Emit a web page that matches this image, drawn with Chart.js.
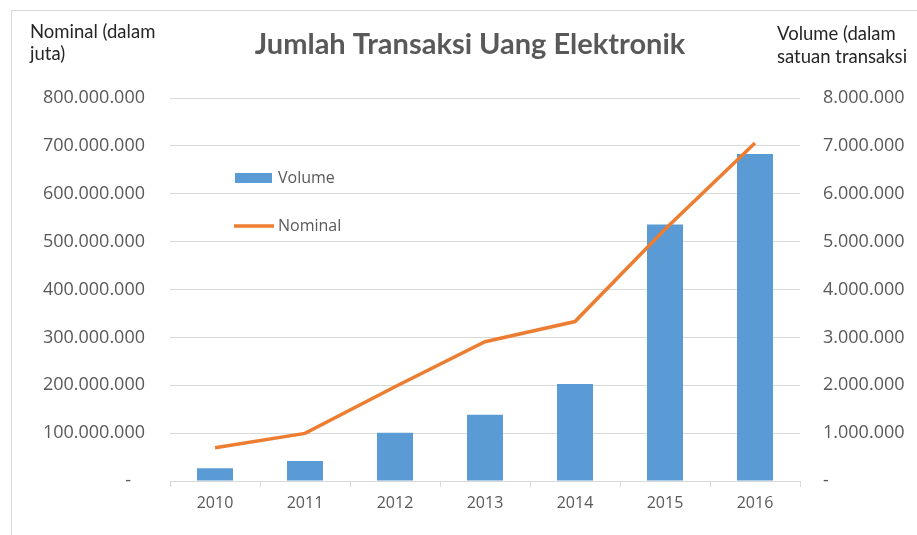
<!DOCTYPE html>
<html>
<head>
<meta charset="utf-8">
<script src="https://cdn.jsdelivr.net/npm/chart.js@4/dist/chart.umd.min.js"></script>
<style>
  html, body { margin: 0; padding: 0; background: #fff; }
  #wrap { width: 917px; height: 535px; position: relative; }
</style>
</head>
<body>
<div id="wrap"><canvas id="chart"></canvas></div>
<script>
// data
const tahun = ['2010', '2011', '2012', '2013', '2014', '2015', '2016'];
const volume = [265000, 420000, 1010000, 1385000, 2025000, 5360000, 6830000];
const nominal = [69500000, 99500000, 197000000, 291000000, 333000000, 526000000, 706000000];

const judul = 'Jumlah Transaksi Uang Elektronik';
const judulKiri = ['Nominal (dalam', 'juta)'];
const judulKanan = ['Volume (dalam', 'satuan transaksi'];

const textColor = '#595959';
const gridColor = '#d9d9d9';

// 800000000 -> "800.000.000", 0 -> "-"
function fmt(v, trail) {
    if (v === 0) return '-' + (trail || '');
    return String(Math.round(v)).replace(/\B(?=(\d{3})+(?!\d))/g, '.');
}

// frame, titles and the in-plot legend
const extras = {
    id: 'extras',
    beforeDraw(chart) {
        const c = chart.ctx;
        c.save();
        c.strokeStyle = gridColor;
        c.lineWidth = 1;
        c.strokeRect(11.5, 10.5, 1000, 1000);
        c.restore();
    },
    afterDraw(chart) {
        const c = chart.ctx;
        c.save();
        c.fillStyle = textColor;
        c.textBaseline = 'middle';

        c.font = 'bold 29px Lato';
        c.textAlign = 'center';
        c.fillText(judul, 470, 45);

        c.font = '18.5px Lato';
        c.textAlign = 'left';
        c.fillStyle = '#262626';
        judulKiri.forEach((t, i) => c.fillText(t, 30, 32 + i * 22));
        judulKanan.forEach((t, i) => c.fillText(t, 777, 34 + i * 23));

        // legend
        const ds = chart.data.datasets;
        c.font = '16px "Open Sans"';
        c.fillStyle = ds[0].backgroundColor;
        c.fillRect(235, 173, 37, 10);
        c.strokeStyle = ds[1].borderColor;
        c.lineWidth = 3.5;
        c.beginPath();
        c.moveTo(234, 226);
        c.lineTo(274, 226);
        c.stroke();
        c.fillStyle = textColor;
        c.fillText(ds[0].label, 278, 178);
        c.fillText(ds[1].label, 278, 226);
        c.restore();
    }
};

new Chart(document.getElementById('chart'), {
    type: 'bar',
    data: {
        labels: tahun,
        datasets: [{
            label: 'Volume',
            data: volume,
            yAxisID: 'yR',
            backgroundColor: '#5b9bd5',
            barPercentage: 0.4,
            categoryPercentage: 1,
            order: 2
        }, {
            type: 'line',
            label: 'Nominal',
            data: nominal,
            yAxisID: 'y',
            borderColor: '#ed7d31',
            borderWidth: 3.5,
            pointRadius: 0,
            tension: 0,
            fill: false,
            order: 1
        }]
    },
    options: {
        responsive: true,
        maintainAspectRatio: false,
        animation: false,
        layout: { padding: { top: 98, left: 0, right: 0, bottom: 0 } },
        plugins: {
            legend: { display: false },
            title: { display: false },
            tooltip: { enabled: false }
        },
        scales: {
            x: {
                grid: { drawOnChartArea: false, drawTicks: true, tickLength: 6, color: gridColor, offset: true },
                border: { display: true, color: gridColor },
                ticks: { color: textColor, font: { family: 'Open Sans', size: 16 }, padding: 7 },
                afterFit(s) { s.height = 54; }
            },
            y: {
                position: 'left',
                min: 0,
                max: 800000000,
                grid: { color: gridColor, drawTicks: false },
                border: { display: false },
                ticks: {
                    stepSize: 100000000,
                    color: textColor,
                    font: { family: 'Open Sans', size: 18 },
                    padding: 25,
                    callback: (v) => fmt(v, '   ')
                },
                afterFit(s) { s.width = 170; }
            },
            yR: {
                position: 'right',
                min: 0,
                max: 8000000,
                grid: { drawOnChartArea: false, drawTicks: false },
                border: { display: false },
                ticks: {
                    stepSize: 1000000,
                    color: textColor,
                    font: { family: 'Open Sans', size: 18 },
                    padding: 23,
                    callback: (v) => fmt(v)
                },
                afterFit(s) { s.width = 117; }
            }
        }
    },
    plugins: [extras]
});
</script>
</body>
</html>
